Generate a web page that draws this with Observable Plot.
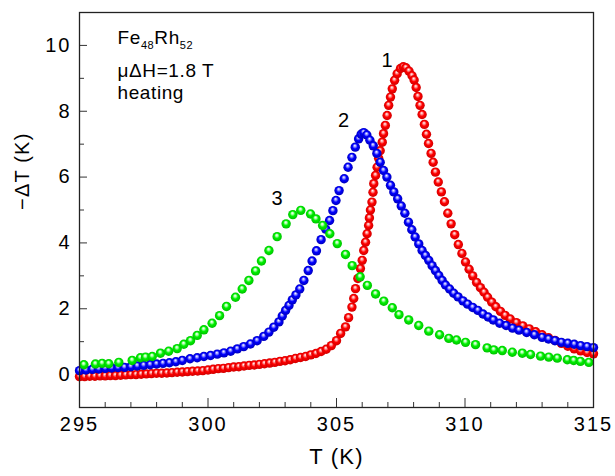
<!DOCTYPE html>
<html><head><meta charset="utf-8">
<script src="https://cdn.jsdelivr.net/npm/d3@7"></script>
<script src="https://cdn.jsdelivr.net/npm/@observablehq/plot@0.6"></script>
<style>body{margin:0;background:#fff}</style>
</head><body><div id="chart"></div>
<script>
// Series 1 (red)
const T1 = [295.0,295.2,295.4,295.6,295.8,296.0,296.2,296.4,296.6,296.8,297.0,297.2,297.4,297.6,297.8,298.0,298.2,298.4,298.6,298.8,299.0,299.2,299.4,299.6,299.8,300.0,300.2,300.4,300.6,300.8,301.0,301.2,301.4,301.6,301.8,302.0,302.2,302.4,302.6,302.8,303.0,303.2,303.4,303.6,303.8,304.0,304.2,304.4,304.6,304.8,305.0,
305.16,305.35,305.47,305.6,305.67,305.74,305.83,305.93,306.0,306.06,306.13,306.19,306.25,306.28,306.32,306.38,306.42,306.45,306.52,306.58,306.64,306.7,306.78,306.83,306.9,306.97,307.03,307.1,307.17,307.26,307.36,307.49,307.6,307.7,307.82,307.94,308.02,308.1,308.17,308.25,308.33,308.42,308.5,308.58,308.68,308.76,308.85,308.96,309.08,309.2,309.33,309.46,309.6,309.74,309.88,310.02,310.16,310.3,310.45,310.6,310.74,310.88,311.04,311.2,311.38,311.56,311.76,312.0,312.25,312.5,312.75,313.0,313.25,313.5,313.75,314.0,314.25,314.5,314.75,315.0];
const V1 = [-0.06,-0.06,-0.05,-0.05,-0.04,-0.04,-0.03,-0.03,-0.02,-0.01,0.0,0.0,0.01,0.02,0.03,0.04,0.04,0.05,0.06,0.07,0.08,0.09,0.1,0.11,0.12,0.14,0.16,0.18,0.19,0.21,0.23,0.24,0.26,0.28,0.29,0.31,0.33,0.35,0.37,0.4,0.42,0.45,0.49,0.52,0.55,0.6,0.64,0.7,0.77,0.88,1.03,
1.25,1.45,1.73,2.05,2.31,2.61,2.92,3.22,3.47,3.77,4.02,4.28,4.53,4.76,5.0,5.24,5.54,5.8,6.05,6.3,6.57,6.8,7.06,7.32,7.57,7.87,8.18,8.43,8.68,8.94,9.14,9.3,9.35,9.32,9.22,9.08,8.95,8.72,8.45,8.18,7.9,7.6,7.3,7.02,6.72,6.45,6.15,5.85,5.55,5.25,4.9,4.58,4.25,3.95,3.68,3.42,3.2,3.0,2.8,2.64,2.5,2.35,2.2,2.06,1.92,1.8,1.69,1.58,1.48,1.39,1.3,1.21,1.12,1.04,0.95,0.86,0.78,0.72,0.67,0.63];
// Series 2 (blue)
const T2 = [295.0,295.25,295.5,295.75,296.0,296.25,296.5,296.75,297.0,297.25,297.5,297.75,298.0,298.25,298.5,298.75,299.0,299.3,299.58,299.84,300.1,300.36,300.62,300.88,301.14,301.39,301.65,301.91,302.17,302.37,302.56,302.76,302.89,303.02,303.15,303.28,303.42,303.57,303.73,303.9,304.05,304.22,304.4,304.58,304.73,304.86,304.98,305.1,305.3,305.45,305.6,305.73,305.86,305.96,306.06,306.18,306.3,306.43,306.57,306.7,306.83,306.96,307.1,307.23,307.38,307.52,307.66,307.8,307.93,308.06,308.2,308.33,308.46,308.59,308.72,308.85,308.98,309.11,309.24,309.4,309.56,309.73,309.92,310.1,310.3,310.5,310.7,310.9,311.1,311.35,311.6,311.85,312.1,312.4,312.7,313.0,313.25,313.5,313.75,314.0,314.25,314.5,314.75,315.0];
const V2 = [0.12,0.14,0.16,0.17,0.19,0.2,0.21,0.22,0.24,0.26,0.28,0.3,0.32,0.34,0.36,0.39,0.43,0.48,0.51,0.55,0.58,0.62,0.66,0.71,0.78,0.85,0.93,1.03,1.16,1.29,1.44,1.6,1.78,1.95,2.1,2.27,2.42,2.6,2.86,3.16,3.45,3.76,4.1,4.42,4.68,4.98,5.29,5.59,5.95,6.3,6.6,6.91,7.16,7.3,7.35,7.28,7.12,6.95,6.72,6.45,6.2,6.0,5.75,5.55,5.34,5.12,4.9,4.63,4.4,4.18,3.97,3.77,3.62,3.47,3.31,3.16,3.01,2.86,2.72,2.6,2.47,2.36,2.24,2.14,2.04,1.95,1.84,1.75,1.66,1.56,1.49,1.41,1.35,1.28,1.21,1.13,1.08,1.03,0.98,0.95,0.92,0.88,0.85,0.82];
// Series 3 (green)
const T3 = [295.17,295.62,295.88,296.14,296.53,297.05,297.37,297.57,297.83,298.15,298.47,298.8,299.06,299.32,299.58,299.84,300.16,300.45,300.72,301.07,301.33,301.59,301.85,302.08,302.37,302.69,303.04,303.3,303.61,303.99,304.2,304.46,304.74,305.03,305.35,305.61,305.92,306.2,306.52,306.84,307.17,307.43,307.81,308.2,308.59,309.01,309.37,309.67,310.02,310.41,310.86,311.12,311.45,311.84,312.23,312.55,312.94,313.26,313.59,313.98,314.23,314.49,314.82];
const V3 = [0.3,0.32,0.34,0.33,0.37,0.43,0.51,0.53,0.55,0.65,0.71,0.79,0.92,1.03,1.19,1.36,1.56,1.79,2.07,2.35,2.6,2.86,3.15,3.45,3.77,4.19,4.58,4.86,4.99,4.88,4.73,4.53,4.28,3.98,3.65,3.31,2.97,2.71,2.45,2.23,2.03,1.82,1.66,1.49,1.32,1.21,1.1,1.05,0.98,0.91,0.81,0.75,0.73,0.68,0.65,0.61,0.56,0.53,0.5,0.45,0.43,0.4,0.37];

const curveLabels = ["1","2","3"];
const labelT = [306.97, 305.27, 302.69];
const labelV = [9.54, 7.72, 5.35];

const xMajor = [295,300,305,310,315];
const xMinor = [296,297,298,299,301,302,303,304,306,307,308,309,311,312,313,314];
const yMajor = [0,2,4,6,8,10];
const yMinor = [-1,1,3,5,7,9];

const annot1 = "Fe48Rh52";
const annot2 = "\u03BC\u0394H=1.8 T";
const annot3 = "heating";
const xTitle = "T (K)";
const yTitle = "\u2212\u0394T (K)";

const W = 615, H = 476, mL = 79, mR = 22, mT = 12, mB = 69;
const plotW = W - mL - mR, plotH = H - mT - mB;

const toRows = (T, V) => T.map((t, i) => ({T: t, V: V[i]}));
const s1 = toRows(T1, V1), s2 = toRows(T2, V2), s3 = toRows(T3, V3);
const labs = curveLabels.map((t, i) => ({t, T: labelT[i], V: labelV[i]}));

const font = "'Liberation Sans', Arial, Helvetica, sans-serif";
const chart = Plot.plot({
  width: W, height: H,
  marginLeft: mL, marginRight: mR, marginTop: mT, marginBottom: mB,
  style: {fontFamily: font, fontSize: "20px", color: "black", background: "white"},
  x: {domain: [295, 315], axis: null},
  y: {domain: [-1, 11], axis: null},
  marks: [
    Plot.tickX(xMinor, {x: d => d, insetTop: plotH - 5, stroke: "#333", strokeWidth: 1}),
    Plot.tickX(xMajor, {x: d => d, insetTop: plotH - 9, stroke: "#333", strokeWidth: 1}),
    Plot.tickY(yMinor, {y: d => d, insetRight: plotW - 5, stroke: "#333", strokeWidth: 1}),
    Plot.tickY(yMajor, {y: d => d, insetRight: plotW - 8, stroke: "#333", strokeWidth: 1}),
    Plot.text(xMajor, {x: d => d, text: d => String(d), frameAnchor: "bottom", dy: 23, fontSize: 20, fill: "black", className: "ls3"}),
    Plot.text(yMajor, {y: d => d, text: d => String(d), frameAnchor: "left", textAnchor: "end", dx: -8, fontSize: 20, fill: "black", className: "ls3"}),
    Plot.text([xTitle], {frameAnchor: "bottom", dy: 56, fontSize: 22, fill: "black", className: "ls1"}),
    Plot.text([yTitle], {frameAnchor: "left", rotate: -90, dx: -57, fontSize: 20, fill: "black", className: "ls1"}),
    Plot.dot(s1, {x: "T", y: "V", r: 4.7, fill: "url(#gRed)"}),
    Plot.dot(s2, {x: "T", y: "V", r: 4.7, fill: "url(#gBlue)"}),
    Plot.dot(s3, {x: "T", y: "V", r: 4.7, fill: "url(#gGreen)"}),
    Plot.text(labs, {x: "T", y: "V", text: "t", fontSize: 20, fill: "black"}),
    Plot.text([annot1], {frameAnchor: "top-left", dx: 38, dy: 31, lineAnchor: "bottom", textAnchor: "start", fontSize: 19, fill: "black", className: "ls2"}),
    Plot.text([annot2], {frameAnchor: "top-left", dx: 38, dy: 64, lineAnchor: "bottom", textAnchor: "start", fontSize: 19, fill: "black", className: "ls2"}),
    Plot.text([annot3], {frameAnchor: "top-left", dx: 38, dy: 86, lineAnchor: "bottom", textAnchor: "start", fontSize: 19, fill: "black", className: "ls2"}),
    Plot.frame({stroke: "#222", strokeWidth: 1.3})
  ]
});

const svg = d3.select(chart);
svg.selectAll(".ls1 text").attr("letter-spacing", "1.2px");
svg.selectAll(".ls2 text").attr("letter-spacing", "0.6px");
svg.selectAll(".ls3 text").attr("letter-spacing", "2px");
const defs = svg.insert("defs", ":first-child");
const grads = [["gRed", "#ff9a9a", "#ff0000", "#c80000"], ["gBlue", "#9a9aff", "#0000ff", "#0000b0"], ["gGreen", "#b0ffb0", "#00f000", "#00b800"]];
for (const [id, light, base, dark] of grads) {
  const g = defs.append("radialGradient").attr("id", id)
    .attr("cx", "0.5").attr("cy", "0.5").attr("r", "0.55").attr("fx", "0.45").attr("fy", "0.32");
  g.append("stop").attr("offset", "0").attr("stop-color", "#ffffff");
  g.append("stop").attr("offset", "0.22").attr("stop-color", light);
  g.append("stop").attr("offset", "0.5").attr("stop-color", base);
  g.append("stop").attr("offset", "1").attr("stop-color", dark);
}
// subscripts for Fe48Rh52
svg.selectAll("text").filter(function() { return this.textContent === annot1; }).each(function() {
  const t = d3.select(this);
  t.text(null);
  t.append("tspan").text("Fe");
  t.append("tspan").attr("dy", 5).attr("font-size", 11).text("48");
  t.append("tspan").attr("dy", -5).text("Rh");
  t.append("tspan").attr("dy", 5).attr("font-size", 11).text("52");
});
document.getElementById("chart").appendChild(chart);
</script>
</body></html>
